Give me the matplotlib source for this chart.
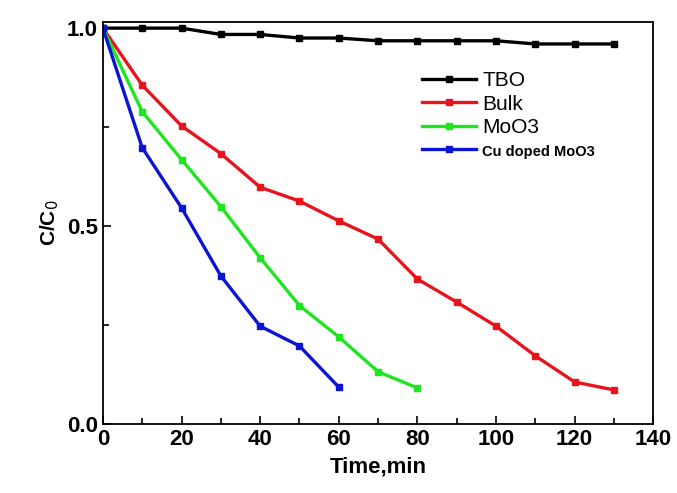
import matplotlib
matplotlib.use('Agg')
import matplotlib.pyplot as plt
from matplotlib.ticker import MultipleLocator

plt.rcParams['font.family'] = ['Liberation Sans', 'DejaVu Sans']

# data
time_tbo = [0, 10, 20, 30, 40, 50, 60, 70, 80, 90, 100, 110, 120, 130]
tbo = [1.0, 1.0, 1.0, 0.984, 0.984, 0.975, 0.975, 0.968, 0.968, 0.968, 0.968, 0.96, 0.96, 0.96]

time_bulk = [0, 10, 20, 30, 40, 50, 60, 70, 80, 90, 100, 110, 120, 130]
bulk = [1.0, 0.856, 0.753, 0.683, 0.598, 0.563, 0.513, 0.467, 0.366, 0.308, 0.247, 0.172, 0.106, 0.086]

time_moo3 = [0, 10, 20, 30, 40, 50, 60, 70, 80]
moo3 = [1.0, 0.789, 0.668, 0.549, 0.42, 0.299, 0.22, 0.132, 0.091]

time_cu = [0, 10, 20, 30, 40, 50, 60]
cu_moo3 = [1.0, 0.698, 0.546, 0.374, 0.247, 0.197, 0.093]

labels = ['TBO', 'Bulk', 'MoO3', 'Cu doped MoO3']
colors = ['#000000', '#e8141c', '#1ee61e', '#0a14d2']

fig = plt.figure(figsize=(6.77, 4.93), dpi=100)
ax = fig.add_axes([0.152, 0.140, 0.813, 0.815])

series = [(time_tbo, tbo), (time_bulk, bulk), (time_moo3, moo3), (time_cu, cu_moo3)]
for (t, v), lab, c in zip(series, labels, colors):
    ax.plot(t, v, '-s', color=c, lw=2.4, ms=4.5, label=lab)

ax.set_xlim(0, 140)
ax.set_ylim(0, 1.015)
ax.xaxis.set_major_locator(MultipleLocator(20))
ax.xaxis.set_minor_locator(MultipleLocator(10))
ax.yaxis.set_major_locator(MultipleLocator(0.5))
ax.yaxis.set_minor_locator(MultipleLocator(0.25))
ax.tick_params(which='both', direction='in', top=False, right=False, width=1.2)
ax.tick_params(which='major', length=6, labelsize=16)
ax.tick_params(which='minor', length=4)
for lb in ax.get_xticklabels() + ax.get_yticklabels():
    lb.set_fontweight('bold')
for s in ax.spines.values():
    s.set_linewidth(1.3)

ax.set_xlabel('Time,min', fontsize=16, fontweight='bold', labelpad=5)
ax.set_ylabel('C/C$_0$', fontsize=15, fontweight='bold', labelpad=4)

leg = ax.legend(loc='upper left', bbox_to_anchor=(0.545, 0.925), frameon=False,
                handlelength=2.6, handletextpad=0.3, labelspacing=0.22,
                prop={'size': 15})
texts = leg.get_texts()
texts[3].set_fontsize(10.5)
texts[3].set_fontweight('bold')

fig.savefig('out.png', dpi=100)
